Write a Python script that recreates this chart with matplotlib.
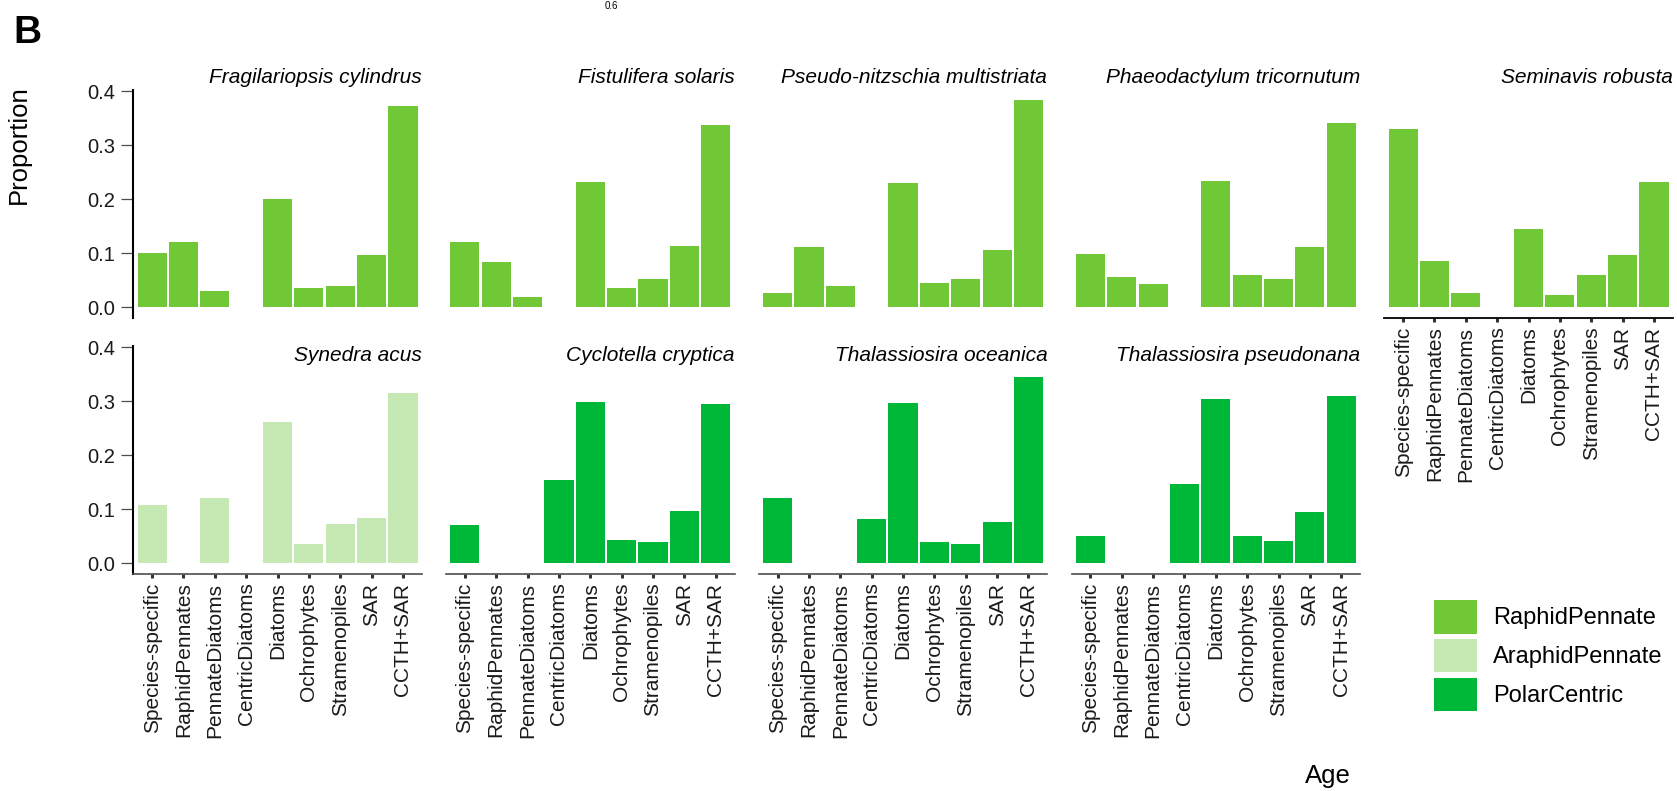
import numpy as np
import matplotlib.pyplot as plt
from matplotlib.patches import Patch

plt.rcParams['font.family'] = ['Liberation Sans', 'DejaVu Sans']

categorias = ['Species-specific', 'RaphidPennates', 'PennateDiatoms', 'CentricDiatoms',
              'Diatoms', 'Ochrophytes', 'Stramenopiles', 'SAR', 'CCTH+SAR']

especies = ['Fragilariopsis cylindrus', 'Fistulifera solaris', 'Pseudo-nitzschia multistriata',
            'Phaeodactylum tricornutum', 'Seminavis robusta', 'Synedra acus',
            'Cyclotella cryptica', 'Thalassiosira oceanica', 'Thalassiosira pseudonana']

grupos = ['RaphidPennate', 'RaphidPennate', 'RaphidPennate', 'RaphidPennate', 'RaphidPennate',
          'AraphidPennate', 'PolarCentric', 'PolarCentric', 'PolarCentric']

fragilariopsis = [0.100, 0.120, 0.029, 0.0, 0.201, 0.036, 0.040, 0.096, 0.372]
fistulifera = [0.120, 0.083, 0.018, 0.0, 0.231, 0.036, 0.053, 0.114, 0.338]
pseudo_nitzschia = [0.027, 0.112, 0.040, 0.0, 0.229, 0.044, 0.053, 0.105, 0.383]
phaeodactylum = [0.099, 0.055, 0.042, 0.0, 0.233, 0.060, 0.053, 0.112, 0.340]
seminavis = [0.329, 0.086, 0.027, 0.0, 0.144, 0.022, 0.059, 0.096, 0.231]
synedra = [0.108, 0.0, 0.121, 0.0, 0.262, 0.036, 0.073, 0.084, 0.315]
cyclotella = [0.071, 0.0, 0.0, 0.154, 0.299, 0.043, 0.040, 0.097, 0.295]
t_oceanica = [0.121, 0.0, 0.0, 0.082, 0.297, 0.040, 0.036, 0.077, 0.345]
t_pseudonana = [0.051, 0.0, 0.0, 0.147, 0.304, 0.051, 0.041, 0.095, 0.310]

valores = [fragilariopsis, fistulifera, pseudo_nitzschia, phaeodactylum, seminavis,
           synedra, cyclotella, t_oceanica, t_pseudonana]

cores = {'RaphidPennate': '#71c837', 'AraphidPennate': '#c6e9b4', 'PolarCentric': '#00b838'}

W, H = 1677, 791
fig = plt.figure(figsize=(W / 100, H / 100), dpi=100)

# painel: posicoes em pixels
esq0, passo, largura = 133.3, 312.75, 288.5
topos = [90, 346]
altura = 227.5

for k, nome in enumerate(especies):
    lin, col = divmod(k, 5)
    x0 = esq0 + col * passo
    y0 = topos[lin]
    ax = fig.add_axes([x0 / W, 1 - (y0 + altura) / H, largura / W, altura / H])
    ax.bar(np.arange(len(categorias)), valores[k], width=0.93, color=cores[grupos[k]], linewidth=0)
    ax.set_xlim(-0.6, 8.6)
    ax.set_ylim(-0.0192, 0.402)
    ax.set_facecolor('none')
    for s in ['top', 'right']:
        ax.spines[s].set_visible(False)

    # eixo y so na primeira coluna
    if col == 0:
        ax.spines['left'].set_linewidth(1.5)
        ax.spines['left'].set_color('black')
        ax.set_yticks([0, 0.1, 0.2, 0.3, 0.4])
        ax.set_yticklabels(['0.0', '0.1', '0.2', '0.3', '0.4'])
        ax.tick_params(axis='y', length=8.4, width=0.9, color='#4d4d4d', pad=4.8,
                       labelsize=14.5, labelcolor='#1a1a1a')
    else:
        ax.spines['left'].set_visible(False)
        ax.tick_params(axis='y', left=False, labelleft=False)

    # eixo x na linha de baixo e no Seminavis
    if lin == 1 or col == 4:
        ax.spines['bottom'].set_linewidth(1.3 if col == 4 else 1.2)
        ax.spines['bottom'].set_color('black' if col == 4 else '#4d4d4d')
        ax.set_xticks(np.arange(len(categorias)))
        ax.set_xticklabels(categorias, rotation=90, fontsize=15, color='#1a1a1a')
        ax.tick_params(axis='x', length=3, width=2.2, color='#333333', pad=3.5)
    else:
        ax.spines['bottom'].set_visible(False)
        ax.tick_params(axis='x', bottom=False, labelbottom=False)

    if lin == 0:
        ax.text(1.0, 1 + 12.5 / altura, nome, transform=ax.transAxes, ha='right', va='center',
                fontsize=15, style='italic')
    else:
        ax.text(1.0, 1 - 9 / altura, nome, transform=ax.transAxes, ha='right', va='center',
                fontsize=15, style='italic')

# legenda
handles = [Patch(facecolor=cores[g], label=g, linewidth=0)
           for g in ['RaphidPennate', 'AraphidPennate', 'PolarCentric']]
fig.legend(handles=handles, loc='upper left', bbox_to_anchor=(1434 / W, 1 - 600 / H),
           frameon=False, fontsize=17, handlelength=1.81, handleheight=1.81,
           labelspacing=0.225, handletextpad=0.70, borderpad=0, borderaxespad=0)

fig.text(19 / W, 1 - 145 / H, 'Proportion', rotation=90, ha='center', va='center', fontsize=18.5)
fig.text(1328 / W, 1 - 776 / H, 'Age', ha='center', va='center', fontsize=18.5)
fig.text(13 / W, 1 - 43 / H, 'B', ha='left', va='baseline', fontsize=28, fontweight='bold')
fig.text(611.6 / W, 1 - 6 / H, '0.6', ha='center', va='center', fontsize=7)

fig.savefig('out.png', dpi=100)
